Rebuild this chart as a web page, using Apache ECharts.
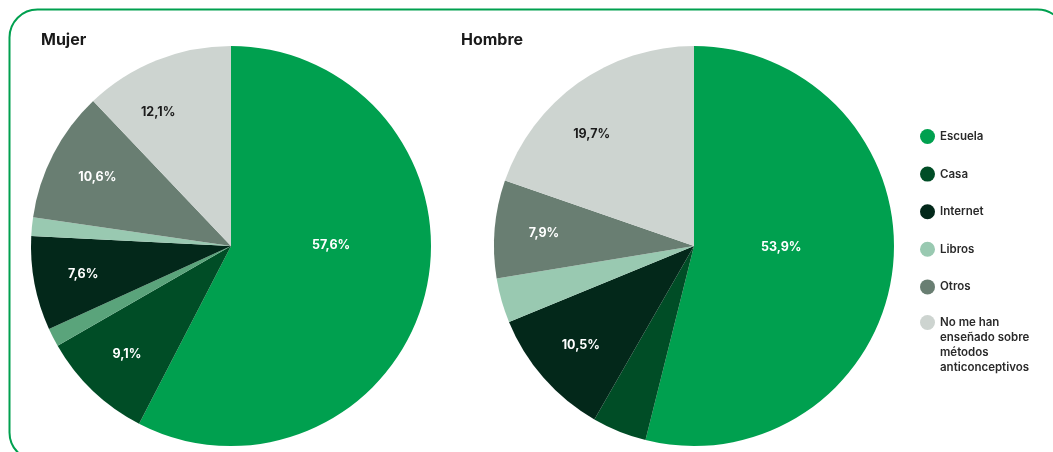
<!DOCTYPE html>
<html><head><meta charset="utf-8">
<script src="https://cdn.jsdelivr.net/npm/echarts@6/dist/echarts.min.js"></script>
<style>html,body{margin:0;padding:0;background:#fff}#c{width:1053px;height:452px}</style>
</head><body><div id="c"></div>
<script>
// ---- data ----
const categories = ['Escuela', 'Casa', 'Otro', 'Internet', 'Libros', 'Otros', 'No me han enseñado sobre métodos anticonceptivos'];
const legendCategories = ['Escuela', 'Casa', 'Internet', 'Libros', 'Otros'];
const lastLegendCategory = 'No me han enseñado sobre métodos anticonceptivos';
const mujerValues = [57.6, 9.1, 1.5, 7.6, 1.5, 10.6, 12.1];
const hombreValues = [53.9, 4.4, 0, 10.5, 3.6, 7.9, 19.7];
const chartTitles = ['Mujer', 'Hombre'];

// ---- styles ----
const palette = {
  'Escuela': '#00a04f',
  'Casa': '#004d26',
  'Otro': '#5aa47b',
  'Internet': '#03281a',
  'Libros': '#99c9b1',
  'Otros': '#697e72',
  'No me han enseñado sobre métodos anticonceptivos': '#cdd4d0'
};
const darkLabel = { 'No me han enseñado sobre métodos anticonceptivos': true };
const FONT = 'Inter, "Open Sans", sans-serif';
const R = 200;

function fmt(v) { return v.toFixed(1).replace('.', ',') + '%'; }

function buildData(values, which) {
  return categories.map((c, i) => ({ name: c, value: values[i] }))
    .filter(d => d.value > 0)
    .map(d => {
      const big = d.name === 'Escuela';
      const show = d.value >= 5 && ((which === 'main') === big);
      return {
        name: d.name,
        value: d.value,
        itemStyle: { color: which === 'main' ? palette[d.name] : 'rgba(0,0,0,0)' },
        label: { show: show, color: darkLabel[d.name] ? '#1c1c1c' : '#ffffff' }
      };
    });
}

function pieSeries(values, center, mainShift, lightShift) {
  const common = {
    type: 'pie', center: center, startAngle: 90, clockwise: true,
    avoidLabelOverlap: false, animation: false,
    labelLine: { show: false },
    emphasis: { disabled: true },
    label: { position: 'inside', formatter: p => fmt(p.value), fontFamily: FONT, fontWeight: 'bold', fontSize: 12.5 }
  };
  return [
    Object.assign({}, common, {
      radius: [0, R], data: buildData(values, 'main'),
      labelLayout: () => ({ dx: mainShift[0], dy: mainShift[1] })
    }),
    Object.assign({}, common, {
      radius: [95, R], data: buildData(values, 'outer'), silent: true, z: 3,
      labelLayout: (p) => darkLabel[categories.filter((c, i) => values[i] > 0)[p.dataIndex]]
        ? { dx: lightShift[0], dy: lightShift[1] } : {}
    })
  ];
}

const chart = echarts.init(document.getElementById('c'), null, { renderer: 'canvas' });
chart.setOption({
  backgroundColor: '#ffffff',
  title: [
    { text: chartTitles[0], left: 36, top: 27, textStyle: { fontFamily: FONT, fontSize: 16, fontWeight: 'bold', color: '#1a1a1a' } },
    { text: chartTitles[1], left: 456, top: 27, textStyle: { fontFamily: FONT, fontSize: 16, fontWeight: 'bold', color: '#1a1a1a' } }
  ],
  legend: [
    {
      data: legendCategories, orient: 'vertical', left: 915, top: 124,
      icon: 'circle', itemWidth: 15, itemHeight: 15, itemGap: 22.6, selectedMode: false,
      textStyle: { fontFamily: FONT, fontSize: 11.5, fontWeight: 600, color: '#2a2a2a' }
    },
    {
      data: [lastLegendCategory], orient: 'vertical', left: 915, top: 265,
      icon: 'circle', itemWidth: 15, itemHeight: 15, selectedMode: false,
      formatter: () => '\n\n\nNo me han\nenseñado sobre\nmétodos\nanticonceptivos',
      textStyle: { fontFamily: FONT, fontSize: 11.5, fontWeight: 600, color: '#2a2a2a', lineHeight: 15 }
    }
  ],
  graphic: [{
    type: 'rect', silent: true, z: -1,
    shape: { x: 9.5, y: 9.5, width: 1056, height: 451, r: 28 },
    style: { fill: 'none', stroke: '#00a04f', lineWidth: 2 }
  }],
  series: [].concat(
    pieSeries(mujerValues, [231, 246], [0, -25], [-17, 6]),
    pieSeries(hombreValues, [694, 246], [-15, -11], [-15, 11])
  )
});
</script></body></html>
